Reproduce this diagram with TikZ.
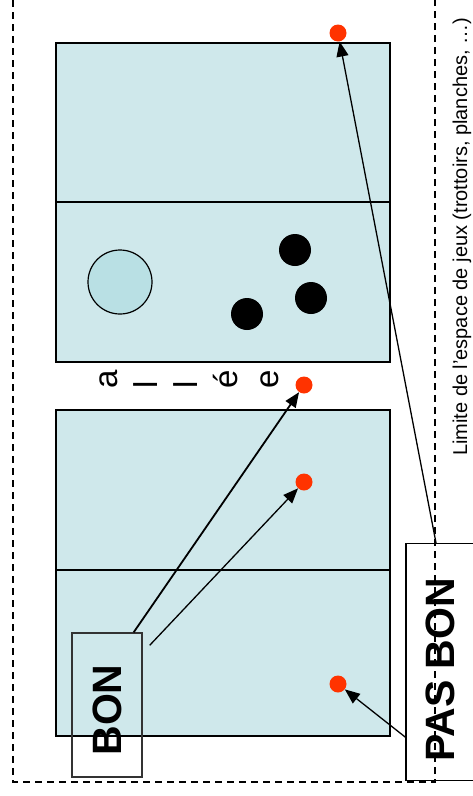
\documentclass[tikz,border=0pt]{standalone}
\usepackage{fontspec}
\setmainfont{Liberation Sans}
\usetikzlibrary{arrows.meta}
\definecolor{terrain}{RGB}{207,232,235}
\definecolor{boule}{RGB}{185,224,228}
\definecolor{rouge}{RGB}{255,51,0}
\tikzset{
  pt/.style={circle,fill=rouge,minimum size=17pt,inner sep=0pt},
  fleche/.style={line width=1.3pt,-{Triangle[length=15pt,width=12pt]}},
  cadre/.style={rotate=90,line width=1.3pt,inner sep=0pt,font=\fontsize{41}{41}\selectfont\bfseries},
  limite/.style={line width=1.3pt,dash pattern=on 7pt off 5pt}
}
\begin{document}
\begin{tikzpicture}[x=1pt,y=-1pt]
\useasboundingbox (0,0) rectangle (473,796);
\clip (0,0) rectangle (473,796);
% Terrains
\draw[fill=terrain,line width=1.8pt] (56,43) rectangle (390,362);
\draw[line width=1.4pt] (56,202) -- (390,202);
\draw[fill=terrain,line width=1.8pt] (56,410) rectangle (390,736);
\draw[line width=1.4pt] (56,570) -- (390,570);
% Boules
\draw[fill=boule,line width=1.2pt] (120,282) circle (32pt);
\foreach \bx/\by in {295/250, 311/298, 247/314}
        \fill (\bx,\by) circle (16pt);
% allee
\foreach \lettre [count=\i from 0] in {a,l,l,é,e}
        \node[rotate=90,anchor=base west,inner sep=0pt,font=\fontsize{33}{33}\selectfont] (allee\i) at (117+40.3*\i,389) {\lettre};
% Points
\node[pt] (p1) at (338,33) {};
\node[pt] (p2) at (304,385) {};
\node[pt] (p3) at (304,482) {};
\node[pt] (p4) at (338,684) {};
% Cadres
\node[cadre,draw=black!80,minimum width=144pt,minimum height=70pt] (bon) at (107,705) {BON\kern10pt};
\node[cadre,draw=black,fill=white,minimum width=237pt,minimum height=68pt] (pasbon) at (440,662) {PAS BON\kern16pt};
% Limite
\draw[limite] (13,0) -- (13,782) -- (435,782) -- (435,0);
\node[rotate=90,anchor=base west,inner sep=0pt,font=\fontsize{20}{20}\selectfont] (limtxt) at (467,456) {Limite de l'espace de jeux (trottoirs, planches, …)};
% Fleches
\coordinate (bon2) at ([shift={(7pt,-13pt)}]bon.south east);
\draw[fleche,line width=1.8pt] ([xshift=-9pt]bon.south east) -- (p2);
\draw[fleche] (bon2) -- (p3);
\draw[fleche] ([yshift=44pt]pasbon.north west) -- (p4);
\draw[fleche] ([xshift=-4pt]pasbon.east) -- (p1);
\end{tikzpicture}
\end{document}
